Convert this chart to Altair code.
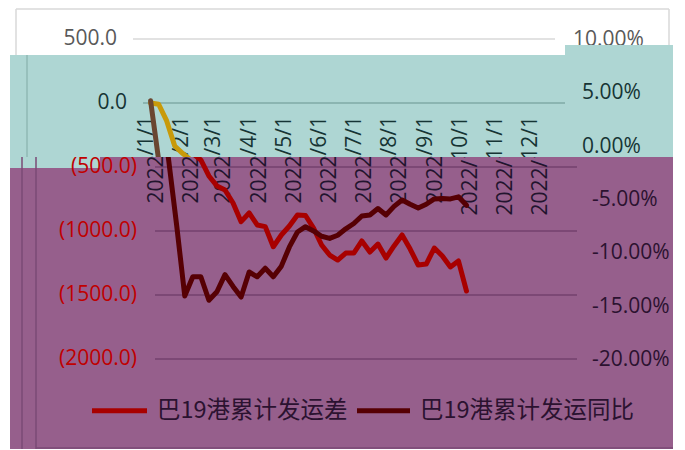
import altair as alt
import pandas as pd

# ---------------- data ----------------
dates = [d.strftime('%Y-%m-%d') for d in pd.date_range('2022-01-01', periods=39, freq='7D')]
diff_values = [0, -10, -140, -336, -395, -445, -570, -648, -680, -781, -927, -859, -953,
               -966, -1123, -1031, -961, -875, -879, -977, -1109, -1188, -1227, -1172,
               -1172, -1078, -1164, -1102, -1211, -1117, -1031, -1141, -1266, -1258,
               -1133, -1195, -1281, -1234, -1469]
yoy_values = [4.3, -1.25, -7.4, -14.0, -12.2, -12.2, -14.4, -13.6, -12.0, -13.1, -14.1,
              -11.75, -12.2, -11.4, -12.2, -11.2, -9.4, -8.0, -7.5, -7.9, -8.4, -8.6,
              -8.3, -7.7, -7.2, -6.5, -6.4, -5.8, -6.4, -5.6, -5.0, -5.4, -5.75, -5.4,
              -4.9, -4.85, -4.9, -4.7, -5.5]
series_names = ['巴19港累计发运差', '巴19港累计发运同比']

left_ticks = [500, 0, -500, -1000, -1500, -2000]
left_labels = ['500.0', '0.0', '(500.0)', '(1000.0)', '(1500.0)', '(2000.0)']
right_ticks = [10, 5, 0, -5, -10, -15, -20]
right_labels = ['10.00%', '5.00%', '0.00%', '-5.00%', '-10.00%', '-15.00%', '-20.00%']
month_dates = ['2022-%02d-01' % m for m in range(1, 13)]
month_labels = ['2022/%d/1' % m for m in range(1, 13)]

# ---------------- layout ----------------
W = 663
OX = 10
HC = 292
BANDS = {'A': (8, 47), 'B': (55, 102), 'C': (157, HC)}
TEAL = '#AED6D3'
PURPLE = '#965F8C'
FONT = 'Open Sans'
FS = 21
LW = 5

series = pd.DataFrame({'date': dates, 'v': diff_values, 'p': yoy_values})
left_df = pd.DataFrame({'v': left_ticks, 'lab': left_labels})
right_df = pd.DataFrame({'p': right_ticks, 'lab': right_labels})
month_df = pd.DataFrame({'date': month_dates, 'lab': month_labels})
one = pd.DataFrame({'a': [0]})

base_ms = pd.Timestamp('2022-01-01', tz='UTC').value // 10**6
DAY = 86400000


def xdom(shift):
    x0 = 150.6 + shift - OX
    return [base_ms + (-x0 / 1.15) * DAY, base_ms + ((W - x0) / 1.15) * DAY]


def ly(band):
    top, h = BANDS[band]
    dom = [500 - (top + h - 39) / 0.128, 500 - (top - 39) / 0.128]
    return alt.Y('v:Q', scale=alt.Scale(domain=dom, nice=False, zero=False), axis=None)


def ry(band):
    top, h = BANDS[band]
    dom = [10 - (top + h - 40) * 0.09375, 10 - (top - 40) * 0.09375]
    return alt.Y('p:Q', scale=alt.Scale(domain=dom, nice=False, zero=False), axis=None)


def xe(shift):
    return alt.X('date:T', scale=alt.Scale(domain=xdom(shift)), axis=None)


def hline(x1, x2, y, color, w=1.5):
    return alt.Chart(one).mark_rule(color=color, strokeWidth=w).encode(
        x=alt.value(x1), x2=alt.value(x2), y=alt.value(y))


def vline(x, y1, y2, color, w=1.5):
    return alt.Chart(one).mark_rule(color=color, strokeWidth=w).encode(
        x=alt.value(x), y=alt.value(y1), y2=alt.value(y2))


def box(x1, x2, y1, y2, color):
    return alt.Chart(one).mark_rect(color=color).encode(
        x=alt.value(x1), x2=alt.value(x2), y=alt.value(y1), y2=alt.value(y2))


def grid(df, band, x1, x2, color):
    return alt.Chart(df).mark_rule(color=color, strokeWidth=1.5).encode(
        x=alt.value(x1), x2=alt.value(x2), y=ly(band))


def ltext(df, band, x, color):
    return alt.Chart(df).mark_text(align='right', baseline='middle', font=FONT,
                                   fontSize=FS, color=color).encode(
        x=alt.value(x), y=ly(band), text='lab:N')


def rtext(df, band, x, color):
    return alt.Chart(df).mark_text(align='left', baseline='middle', font=FONT,
                                   fontSize=FS, color=color).encode(
        x=alt.value(x), y=ry(band), text='lab:N')


def xlabels(shift, yv, color, off):
    return alt.Chart(month_df).mark_text(align='right', baseline='middle', angle=270,
                                         font=FONT, fontSize=FS, color=color,
                                         dy=off, clip=True).encode(
        x=xe(shift), y=alt.value(yv), text='lab:N')


def lines(band, shift, c1, c2):
    l1 = alt.Chart(series).mark_line(color=c1, strokeWidth=LW, strokeJoin='round',
                                     strokeCap='round', clip=True).encode(x=xe(shift), y=ly(band))
    l2 = alt.Chart(series).mark_line(color=c2, strokeWidth=LW, strokeJoin='round',
                                     strokeCap='round', clip=True).encode(x=xe(shift), y=ry(band))
    return [l1, l2]


# ---------------- band A (white) ----------------
pA = alt.layer(
    hline(6, 659, 1, '#D9D9D9'),
    vline(6, 1, 47, '#D9D9D9'),
    vline(659, 1, 47, '#D9D9D9'),
    grid(left_df[left_df.v == 500], 'A', 123, 545, '#D9D9D9'),
    ltext(left_df[left_df.v == 500], 'A', 107, '#595959'),
    rtext(right_df[right_df.p == 10], 'A', 563, '#595959'),
    box(555, 663, 37, 47, TEAL),
).resolve_scale(y='independent').properties(width=W, height=BANDS['A'][1])

# ---------------- band B (teal) ----------------
pB = alt.layer(
    vline(17, 0, 102, '#8FB9B5'),
    grid(left_df[left_df.v == 0], 'B', 133, 555, '#7FAAA6'),
    ltext(left_df[left_df.v == 0], 'B', 117, '#163434'),
    rtext(right_df[right_df.p.isin([5, 0])], 'B', 572, '#163434'),
    xlabels(0, 116 - 55, '#163434', -4),
    *lines('B', 0, '#C89A0A', '#6A4630'),
).resolve_scale(y='independent').properties(
    width=W, height=BANDS['B'][1], view=alt.ViewBackground(fill=TEAL))

# ---------------- band C (purple) ----------------
leg1 = pd.DataFrame({'lab': [series_names[0]]})
leg2 = pd.DataFrame({'lab': [series_names[1]]})
LY = 253.7
pC = alt.layer(
    box(0, 90, 0, 11, TEAL),
    vline(12, 0, HC, '#7A4A76'),
    vline(26, 0, HC, '#7A4A76'),
    hline(26, 663, HC - 1, '#7A4A76'),
    grid(left_df[left_df.v < 0], 'C', 145, 567, '#73416E'),
    ltext(left_df[left_df.v < 0], 'C', 127, '#C00000'),
    rtext(right_df[right_df.p < 0], 'C', 582, '#2B1230'),
    xlabels(10, 116 - 157, '#22142E', -4),
    hline(82, 137, LY, '#A80000', LW),
    alt.Chart(leg1).mark_text(align='left', baseline='middle', font='Noto Sans CJK SC',
                              fontSize=23.5, color='#2B1230').encode(
        x=alt.value(147), y=alt.value(LY), text='lab:N'),
    hline(347, 400, LY, '#560004', LW),
    alt.Chart(leg2).mark_text(align='left', baseline='middle', font='Noto Sans CJK SC',
                              fontSize=23.5, color='#2B1230').encode(
        x=alt.value(410), y=alt.value(LY), text='lab:N'),
    *lines('C', 10, '#A80000', '#560004'),
).resolve_scale(y='independent').properties(
    width=W, height=BANDS['C'][1], view=alt.ViewBackground(fill=PURPLE))

chart = alt.vconcat(pA, pB, pC, spacing=0, bounds='flush').resolve_scale(
    x='independent', y='independent').properties(
    padding={'left': 2, 'top': 0, 'right': 0, 'bottom': 0},
    background='white',
).configure_view(strokeWidth=0)

chart.save("out.html", embed_options={"renderer": "svg", "actions": False})
